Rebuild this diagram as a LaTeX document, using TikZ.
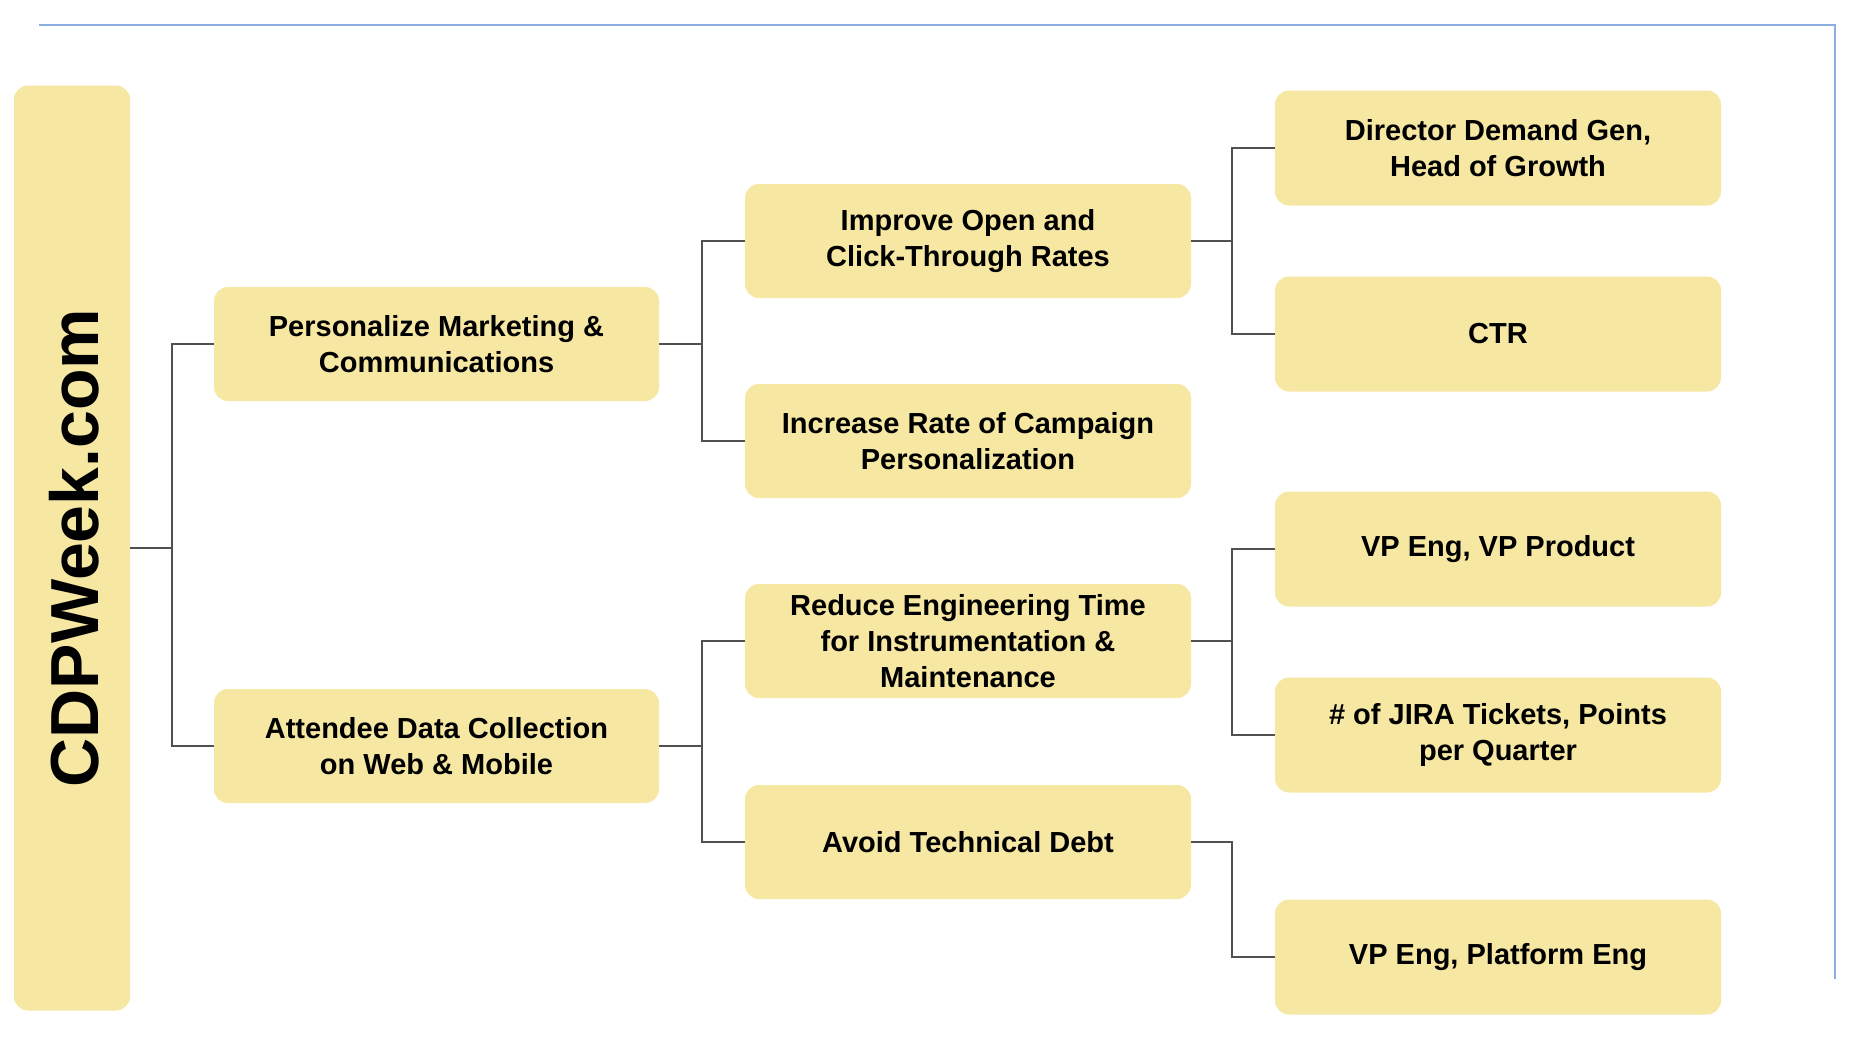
\documentclass[tikz,border=0pt]{standalone}
\usepackage{fontspec}
\setmainfont{Liberation Sans}
\begin{document}
\begin{tikzpicture}[x=1pt,y=-1pt,
  box/.style={fill=boxfill, rounded corners=14pt, align=center, inner sep=0pt,
    font=\bfseries\fontsize{29}{36}\selectfont, text=black},
  l1/.style={box, minimum width=445pt, minimum height=114pt},
  l2/.style={box, minimum width=446pt, minimum height=114pt},
  l3/.style={box, minimum width=446pt, minimum height=115pt},
  conn/.style={draw=linegray, line width=2.4pt}
]
\definecolor{boxfill}{HTML}{F6E7A2}
\definecolor{linegray}{HTML}{505050}
\definecolor{frameblue}{HTML}{8CAEE0}
\useasboundingbox[fill=white] (0,0) rectangle (1865,1036);

% frame line
\coordinate (fa) at (39,25);
\coordinate (fb) at (1835,25);
\coordinate (fc) at (1835,979);
\draw[frameblue, line width=2.5pt] (fa) -- (fb) -- (fc);

% root
\node[box, minimum width=116pt, minimum height=925pt] (root) at (72,548) {};
\node[rotate=90, font=\bfseries\fontsize{68}{72}\selectfont, inner sep=0pt] (roottxt) at (74,548) {CDPWeek.com};

% level 1
\node[l1] (p1) at (436.5,344) {Personalize Marketing \&\\Communications};
\node[l1] (p2) at (436.5,746) {Attendee Data Collection\\on Web \& Mobile};

% level 2
\node[l2] (q1) at (968,241) {Improve Open and\\Click-Through Rates};
\node[l2] (q2) at (968,441) {Increase Rate of Campaign\\Personalization};
\node[l2] (q3) at (968,641) {Reduce Engineering Time\\for Instrumentation \&\\Maintenance};
\node[l2] (q4) at (968,842) {Avoid Technical Debt};

% level 3
\node[l3] (r1) at (1498,148) {Director Demand Gen,\\Head of Growth};
\node[l3] (r2) at (1498,334) {CTR};
\node[l3] (r3) at (1498,549) {VP Eng, VP Product};
\node[l3] (r4) at (1498,735) {\# of JIRA Tickets, Points\\per Quarter};
\node[l3] (r5) at (1498,957) {VP Eng, Platform Eng};

% junctions
\coordinate (j0) at (172,548);
\coordinate (j1) at (702,344);
\coordinate (j2) at (702,746);
\coordinate (j3) at (1232,241);
\coordinate (j4) at (1232,641);
\coordinate (j5) at (1232,842);

% connectors
\draw[conn] (root.east) -- (j0);
\draw[conn] (p1.west) -| (j0) |- (p2.west);
\draw[conn] (p1.east) -- (j1);
\draw[conn] (q1.west) -| (j1) |- (q2.west);
\draw[conn] (p2.east) -- (j2);
\draw[conn] (q3.west) -| (j2) |- (q4.west);
\draw[conn] (q1.east) -- (j3);
\draw[conn] (r1.west) -| (j3) |- (r2.west);
\draw[conn] (q3.east) -- (j4);
\draw[conn] (r3.west) -| (j4) |- (r4.west);
\draw[conn] (q4.east) -- (j5) |- (r5.west);
\end{tikzpicture}
\end{document}
